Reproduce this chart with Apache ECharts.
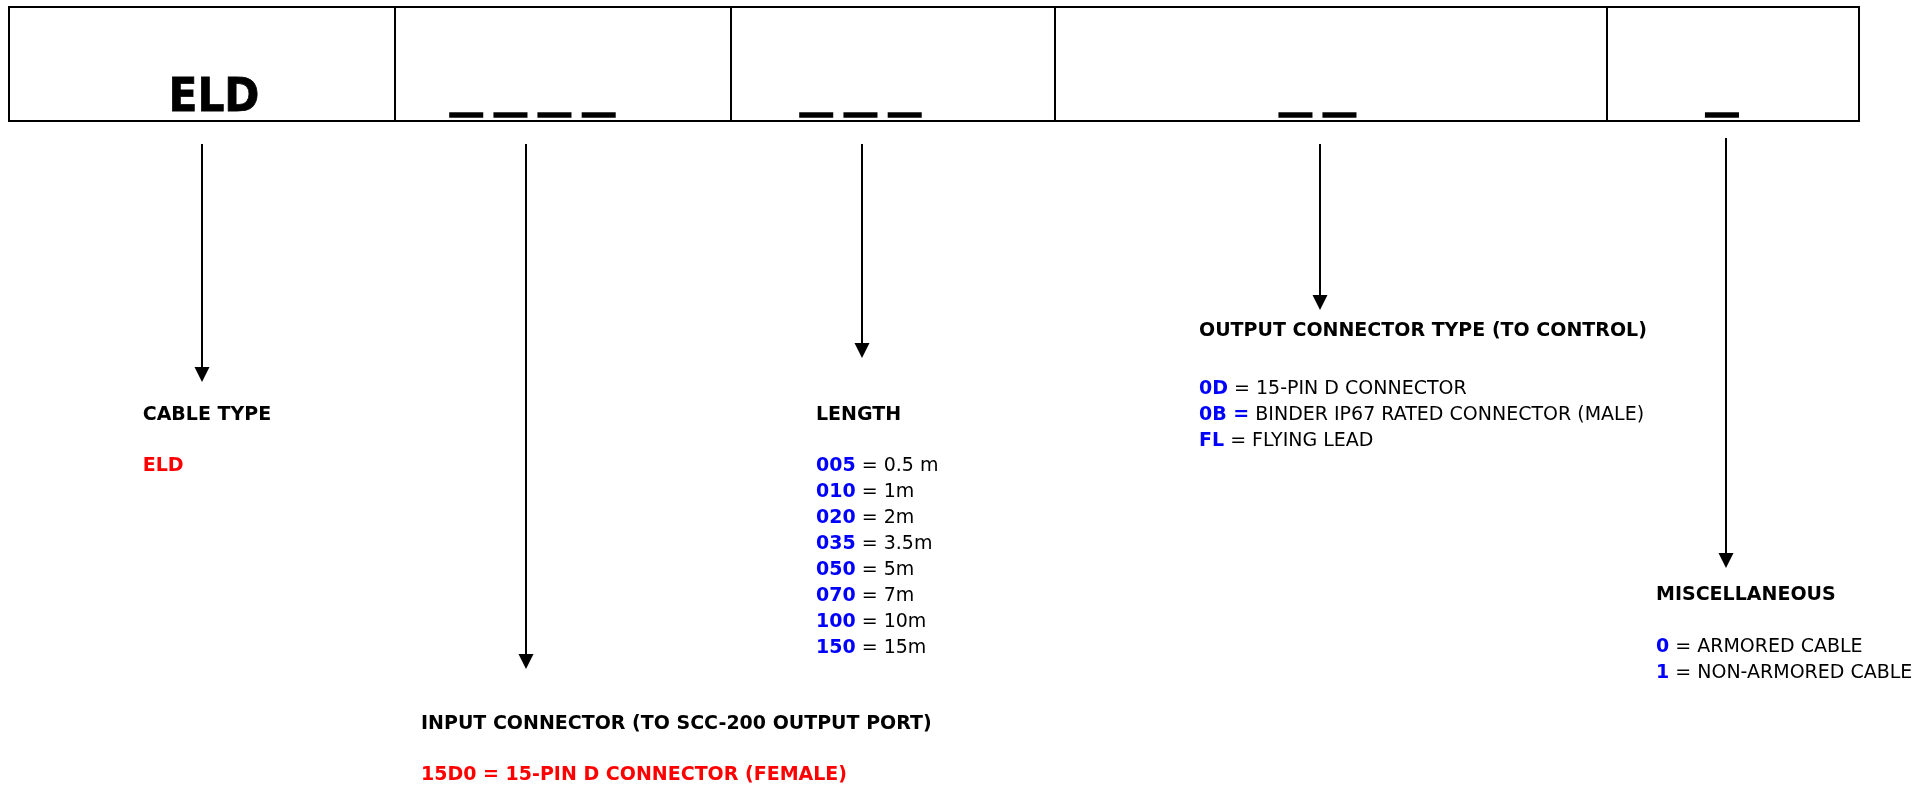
<!DOCTYPE html>
<html>
<head>
<meta charset="utf-8">
<script src="https://cdn.jsdelivr.net/npm/echarts@6/dist/echarts.min.js"></script>
<style>
  html, body { margin: 0; padding: 0; background: #ffffff; }
  #chart { width: 1927px; height: 788px; }
</style>
</head>
<body>
<div id="chart"></div>
<script>
// ---------------- content ----------------
const segmentCodes = ['ELD', '_ _ _ _', '_ _ _', '_ _', '_'];
const fieldTitles = [
  'CABLE TYPE',
  'INPUT CONNECTOR (TO SCC-200 OUTPUT PORT)',
  'LENGTH',
  'OUTPUT CONNECTOR TYPE (TO CONTROL)',
  'MISCELLANEOUS'
];
const cableTypeCodes = ['ELD'];
const cableTypeValues = [''];
const inputConnectorCodes = ['15D0 = 15-PIN D CONNECTOR (FEMALE)'];
const inputConnectorValues = [''];
const lengthCodes = ['005', '010', '020', '035', '050', '070', '100', '150'];
const lengthValues = ['= 0.5 m', '= 1m', '= 2m', '= 3.5m', '= 5m', '= 7m', '= 10m', '= 15m'];
const outputCodes = ['0D', '0B =', 'FL'];
const outputValues = ['= 15-PIN D CONNECTOR', 'BINDER IP67 RATED CONNECTOR (MALE)', '= FLYING LEAD'];
const miscCodes = ['0', '1'];
const miscValues = ['= ARMORED CABLE', '= NON-ARMORED CABLE'];

// ---------------- layout & style (kept apart from content) ----------------
const FONT = 'DejaVu Sans';
const BLUE = '#0000ff';
const RED = '#ff0000';
const LAYOUT = {
  dividers: [9, 395, 731, 1055, 1607, 1859],
  boxTop: 7,
  boxBottom: 121,
  codeCenters: [214, 532.5, 860.5, 1317.5, 1722],
  arrowX: [202, 526, 862, 1320, 1726],
  arrowTop: [144, 144, 144, 144, 138],
  arrowTip: [382, 669, 358, 310, 568],
  blockX: [142.7, 421, 816, 1199, 1656],
  titleY: [415, 724.5, 415, 331, 595.5],
  firstLineY: [466.5, 775, 466.5, 389.5, 647.5],
  lineStep: 25.9,
  fontSize: 19
};

const blocks = [
  { codes: cableTypeCodes, values: cableTypeValues, codeColor: RED },
  { codes: inputConnectorCodes, values: inputConnectorValues, codeColor: RED },
  { codes: lengthCodes, values: lengthValues, codeColor: BLUE },
  { codes: outputCodes, values: outputValues, codeColor: BLUE },
  { codes: miscCodes, values: miscValues, codeColor: BLUE }
];

const chart = echarts.init(document.getElementById('chart'), null, { renderer: 'canvas' });

function renderSegment(params, api) {
  const i = api.value(0);
  const p0 = api.coord([LAYOUT.dividers[i], LAYOUT.boxTop]);
  const p1 = api.coord([LAYOUT.dividers[i + 1], LAYOUT.boxBottom]);
  const c = api.coord([LAYOUT.codeCenters[i], LAYOUT.boxBottom]);
  const children = [{
    type: 'rect',
    shape: { x: p0[0], y: p0[1], width: p1[0] - p0[0], height: p1[1] - p0[1] },
    style: { fill: 'none', stroke: '#000', lineWidth: 2 }
  }];
  if (i === 0) {
    children.push({
      type: 'text',
      x: c[0], y: c[1] - 22,
      scaleX: 0.9,
      style: {
        text: segmentCodes[i], x: 0, y: 0,
        align: 'center', verticalAlign: 'middle',
        font: 'bold 47px "' + FONT + '"', fill: '#000',
        stroke: '#000', lineWidth: 0.8
      }
    });
  } else {
    children.push({
      type: 'text',
      style: {
        text: segmentCodes[i], x: c[0], y: c[1] - 27,
        align: 'center', verticalAlign: 'middle',
        font: 'bold 53px "Liberation Sans"', fill: '#000',
        stroke: '#000', lineWidth: 3.6
      }
    });
  }
  return { type: 'group', children: children };
}

function renderArrow(params, api) {
  const i = api.value(0);
  const x = LAYOUT.arrowX[i];
  const top = api.coord([x, LAYOUT.arrowTop[i]]);
  const tip = api.coord([x, LAYOUT.arrowTip[i]]);
  const headH = 15, headW = 7.5;
  return {
    type: 'group',
    children: [
      { type: 'line', shape: { x1: top[0], y1: top[1], x2: tip[0], y2: tip[1] - headH + 1 },
        style: { stroke: '#000', lineWidth: 2 } },
      { type: 'polygon', shape: { points: [[tip[0] - headW, tip[1] - headH], [tip[0] + headW, tip[1] - headH], [tip[0], tip[1]]] },
        style: { fill: '#000' } }
    ]
  };
}

function renderBlock(params, api) {
  const i = api.value(0);
  const b = blocks[i];
  const fs = LAYOUT.fontSize;
  const t = api.coord([LAYOUT.blockX[i], LAYOUT.titleY[i]]);
  const children = [{
    type: 'text',
    style: {
      text: fieldTitles[i], x: t[0], y: t[1], align: 'left', verticalAlign: 'middle',
      font: 'bold ' + fs + 'px "' + FONT + '"', fill: '#000'
    }
  }];
  b.codes.forEach(function (code, k) {
    const p = api.coord([LAYOUT.blockX[i], LAYOUT.firstLineY[i] + k * LAYOUT.lineStep]);
    const val = b.values[k];
    children.push({
      type: 'text',
      style: {
        text: '{c|' + code + '}' + (val ? '{s| }{v|' + val + '}' : ''),
        x: p[0], y: p[1], align: 'left', verticalAlign: 'middle',
        rich: {
          c: { fontFamily: FONT, fontWeight: 'bold', fontSize: fs, fill: b.codeColor },
          s: { fontFamily: FONT, fontWeight: 'normal', fontSize: fs, fill: '#000' },
          v: { fontFamily: FONT, fontWeight: 'normal', fontSize: fs, fill: '#000' }
        },
        fontFamily: FONT, fontSize: fs, fill: '#000'
      }
    });
  });
  return { type: 'group', children: children };
}

chart.setOption({
  animation: false,
  backgroundColor: '#ffffff',
  grid: { left: 0, right: 0, top: 0, bottom: 0 },
  xAxis: { type: 'value', min: 0, max: 1927, show: false },
  yAxis: { type: 'value', min: 0, max: 788, inverse: true, show: false },
  series: [
    { type: 'custom', name: 'segments', renderItem: renderSegment, data: segmentCodes.map(function (s, i) { return [i]; }), silent: true },
    { type: 'custom', name: 'arrows', renderItem: renderArrow, data: LAYOUT.arrowX.map(function (s, i) { return [i]; }), silent: true },
    { type: 'custom', name: 'fields', renderItem: renderBlock, data: fieldTitles.map(function (s, i) { return [i]; }), silent: true }
  ]
});
</script>
</body>
</html>
